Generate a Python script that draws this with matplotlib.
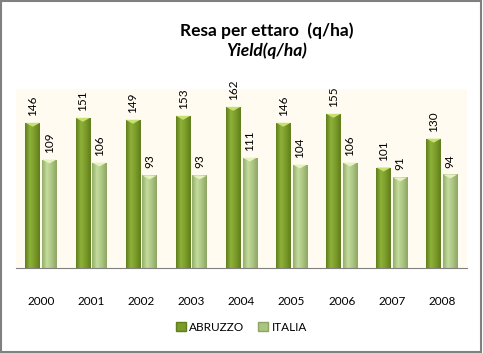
import numpy as np
import matplotlib.pyplot as plt
from matplotlib.colors import LinearSegmentedColormap
from matplotlib.patches import Rectangle

plt.rcParams["font.family"] = ["Lato", "DejaVu Sans"]

anni = ["2000", "2001", "2002", "2003", "2004", "2005", "2006", "2007", "2008"]
abruzzo = [146, 151, 149, 153, 162, 146, 155, 101, 130]
italia = [109, 106, 93, 93, 111, 104, 106, 91, 94]

fig = plt.figure(figsize=(4.83, 3.53), dpi=100)
# bordo grigio del grafico
fig.patches.append(Rectangle((0.002, 0.004), 0.994, 0.992, transform=fig.transFigure,
                             fill=False, edgecolor="#808080", linewidth=1.5))

ax = fig.add_axes([0.033, 0.241, 0.934, 0.507])
ax.set_facecolor("#fffbf0")

x = np.arange(len(anni))
w = 0.29

# gradiente orizzontale per dare volume alle barre
grad_dark = LinearSegmentedColormap.from_list("ab", ["#5f7e1c", "#8fb23a", "#7a9a2a", "#5f7e1c"])
grad_light = LinearSegmentedColormap.from_list("it", ["#93ad6a", "#c4dc9c", "#aac482", "#8ea563"])
g = np.linspace(0, 1, 64).reshape(1, -1)


def draw_bars(pos, vals, cmap, top_col):
    bars = ax.bar(pos, vals, w, color="none", edgecolor="none")
    for b, v in zip(bars, vals):
        x0 = b.get_x()
        im = ax.imshow(g, cmap=cmap, aspect="auto", extent=[x0, x0 + w, 0, v], zorder=2)
        im.set_clip_path(b)
        # punta chiara in cima
        ax.fill([x0, x0 + w, x0 + w / 2], [v, v, v - 4], color=top_col, zorder=3, linewidth=0)
        ax.text(x0 + w / 2, v + 7, str(v), rotation=90, ha="center", va="bottom",
                fontsize=8.5, zorder=4)
    return bars


draw_bars(x - w / 2 - 0.02, abruzzo, grad_dark, "#c8e070")
draw_bars(x + w / 2 + 0.02, italia, grad_light, "#e6f2c0")

ax.set_xlim(-0.5, len(anni) - 0.5)
ax.set_ylim(0, 180)
ax.set_xticks(x)
ax.set_xticklabels(anni, fontsize=8.5)
ax.tick_params(axis="x", length=0, pad=20)
ax.set_yticks([])
for s in ["top", "right", "left"]:
    ax.spines[s].set_visible(False)
ax.spines["bottom"].set_color("#808080")

fig.text(0.553, 0.912, "Resa per ettaro  (q/ha)", ha="center", va="center",
         fontsize=12.5, fontweight="bold")
fig.text(0.553, 0.855, "Yield(q/ha)", ha="center", va="center",
         fontsize=12.5, fontweight="bold", style="italic")

h1 = Rectangle((0, 0), 1, 1, facecolor="#7a9a2a", edgecolor="#5f7e1c")
h2 = Rectangle((0, 0), 1, 1, facecolor="#aac482", edgecolor="#8ea563")
fig.legend([h1, h2], ["ABRUZZO", "ITALIA"], loc="center", bbox_to_anchor=(0.5, 0.073),
           ncol=2, frameon=False, fontsize=8.5, handlelength=0.8, handleheight=0.8,
           handletextpad=0.3, columnspacing=1.2)

fig.savefig("out.png", dpi=100)
